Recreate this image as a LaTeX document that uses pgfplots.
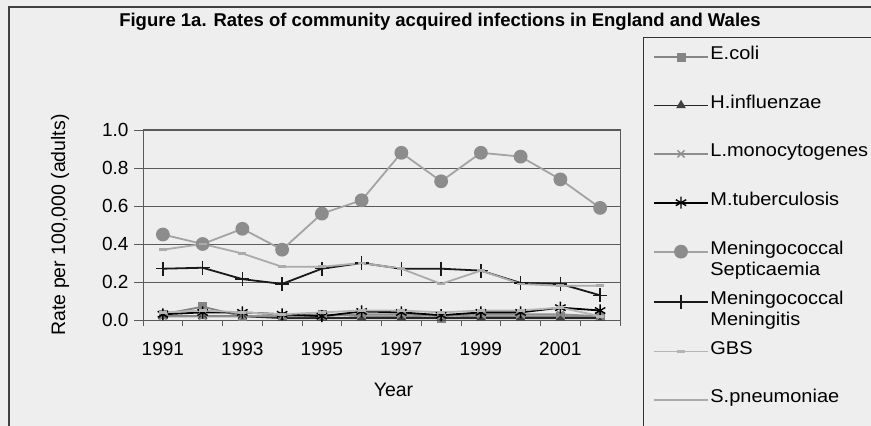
\documentclass[border=0pt]{standalone}
\usepackage{fontspec}
\setmainfont{Liberation Sans}
\usepackage{pgfplots}
\pgfplotsset{compat=1.18}

\definecolor{paper}{HTML}{EEEEEE}
\definecolor{ecoli}{HTML}{858585}
\definecolor{listeria}{HTML}{8E8E8E}
\definecolor{septline}{HTML}{A3A3A3}
\definecolor{septmark}{HTML}{8C8C8C}
\definecolor{gbs}{HTML}{B5B5B5}
\definecolor{pneumo}{HTML}{ABABAB}
\definecolor{gridc}{HTML}{5A5A5A}

% legend entries keep a fixed row height, extra lines hang below
\newcommand\lgd[1]{\raisebox{0pt}[7pt][5pt]{\scalebox{1.08}[1]{\parbox[t]{170pt}{\raggedright #1}}}}

\begin{document}
\begin{tikzpicture}
\useasboundingbox (0pt,0pt) rectangle (871pt,426pt);
\fill[paper] (0pt,0pt) rectangle (871pt,426pt);
% chart area frame and legend frame
\draw[line width=1.1pt, black!75] (9pt,-10pt) rectangle (890pt,419pt);
\draw[line width=1pt, black!80] (643pt,-10pt) rectangle (900pt,388pt);
\node[font=\bfseries\fontsize{18.5}{21}\selectfont] at (440pt,404pt)
  {Figure 1a. Rates of community acquired infections in England and Wales};

\begin{axis}[
  at={(143pt,106pt)}, anchor=south west,
  scale only axis, width=477pt, height=190pt,
  xmin=1990.5, xmax=2002.5, ymin=0, ymax=1,
  xtick={1991,1993,1995,1997,1999,2001},
  minor xtick={1990.5,1991.5,...,2002.5},
  ytick={0,0.2,0.4,0.6,0.8,1},
  tick align=outside, tick pos=left,
  major tick length=9pt, minor tick length=6pt,
  major x tick style={draw=none},
  minor x tick style={gridc, line width=0.9pt},
  major y tick style={gridc, line width=0.9pt},
  ymajorgrids,
  major grid style={gridc, line width=0.9pt},
  axis line style={gridc, line width=1pt},
  tick label style={font=\fontsize{19}{22}\selectfont},
  /pgf/number format/assume math mode=true,
  xticklabel style={/pgf/number format/1000 sep={}, yshift=-10pt},
  yticklabel style={xshift=-2pt, /pgf/number format/.cd, fixed, fixed zerofill, precision=1},
  every axis x label/.style={at={(axis description cs:0.5,0)}, anchor=center, yshift=-70pt, xshift=12pt},
  every axis y label/.style={at={(axis description cs:-0.174,0.5)}, anchor=center, rotate=90},
  xlabel={Year},
  ylabel={Rate per 100,000 (adults)},
  label style={font=\fontsize{19.5}{22}\selectfont},
  legend style={at={(axis description cs:1.069,1.416)}, anchor=north west,
    draw=none, fill=none, font=\fontsize{18.5}{21.5}\selectfont,
    row sep=37pt, inner sep=0pt,
    nodes={inner sep=1.5pt}},
  legend cell align=left,
  legend image code/.code={\draw[mark repeat=2,mark phase=2,#1] plot coordinates {(0pt,0pt) (27pt,0pt) (54pt,0pt)};},
  every axis plot/.append style={line width=1.8pt},
]
% E.coli
\addplot[ecoli, mark=square*, mark size=4pt, mark options={fill=ecoli, draw=ecoli, line width=0.6pt}] coordinates {
  (1991,0.03) (1992,0.07) (1993,0.02) (1994,0.02) (1995,0.03) (1996,0.02)
  (1997,0.02) (1998,0.01) (1999,0.02) (2000,0.02) (2001,0.02) (2002,0.02)};
\addlegendentry{\lgd{E.coli}}
% H.influenzae
\addplot[black!85, mark=triangle*, mark size=5pt, mark options={fill=black!75, draw=black!75, line width=0.6pt}] coordinates {
  (1991,0.02) (1992,0.02) (1993,0.02) (1994,0.01) (1995,0.01) (1996,0.01)
  (1997,0.01) (1998,0.01) (1999,0.01) (2000,0.01) (2001,0.01) (2002,0.01)};
\addlegendentry{\lgd{H.influenzae}}
% L.monocytogenes
\addplot[listeria, mark=x, mark size=5pt, mark options={line width=1.4pt}] coordinates {
  (1991,0.02) (1992,0.02) (1993,0.02) (1994,0.02) (1995,0.02) (1996,0.03)
  (1997,0.03) (1998,0.02) (1999,0.03) (2000,0.03) (2001,0.03) (2002,0.02)};
\addlegendentry{\lgd{L.monocytogenes}}
% M.tuberculosis
\addplot[black, mark=asterisk, mark size=6pt, mark options={line width=1.4pt}] coordinates {
  (1991,0.03) (1992,0.04) (1993,0.04) (1994,0.03) (1995,0.02) (1996,0.045)
  (1997,0.04) (1998,0.025) (1999,0.04) (2000,0.04) (2001,0.065) (2002,0.05)};
\addlegendentry{\lgd{M.tuberculosis}}
% Meningococcal septicaemia
\addplot[septline, mark=*, mark size=6pt, mark options={fill=septmark, draw=septmark}] coordinates {
  (1991,0.45) (1992,0.40) (1993,0.48) (1994,0.37) (1995,0.56) (1996,0.63)
  (1997,0.88) (1998,0.73) (1999,0.88) (2000,0.86) (2001,0.74) (2002,0.59)};
\addlegendentry{\lgd{Meningococcal\\Septicaemia}}
% Meningococcal meningitis
\addplot[black!90, mark=+, mark size=7pt, mark options={line width=1.4pt}] coordinates {
  (1991,0.27) (1992,0.275) (1993,0.215) (1994,0.19) (1995,0.27) (1996,0.30)
  (1997,0.27) (1998,0.27) (1999,0.26) (2000,0.195) (2001,0.19) (2002,0.13)};
\addlegendentry{\lgd{Meningococcal\\Meningitis}}
% GBS
\addplot[gbs, mark=-, mark size=4pt, mark options={line width=2.6pt}] coordinates {
  (1991,0.04) (1992,0.05) (1993,0.04) (1994,0.03) (1995,0.04) (1996,0.05)
  (1997,0.05) (1998,0.04) (1999,0.05) (2000,0.05) (2001,0.065) (2002,0.02)};
\addlegendentry{\lgd{GBS}}
% S.pneumoniae
\addplot[pneumo, mark=-, mark size=4pt, mark options={line width=2.6pt}] coordinates {
  (1991,0.37) (1992,0.40) (1993,0.35) (1994,0.28) (1995,0.28) (1996,0.30)
  (1997,0.27) (1998,0.19) (1999,0.26) (2000,0.19) (2001,0.18) (2002,0.18)};
\addlegendentry{\lgd{S.pneumoniae}}
\end{axis}
\end{tikzpicture}
\end{document}
